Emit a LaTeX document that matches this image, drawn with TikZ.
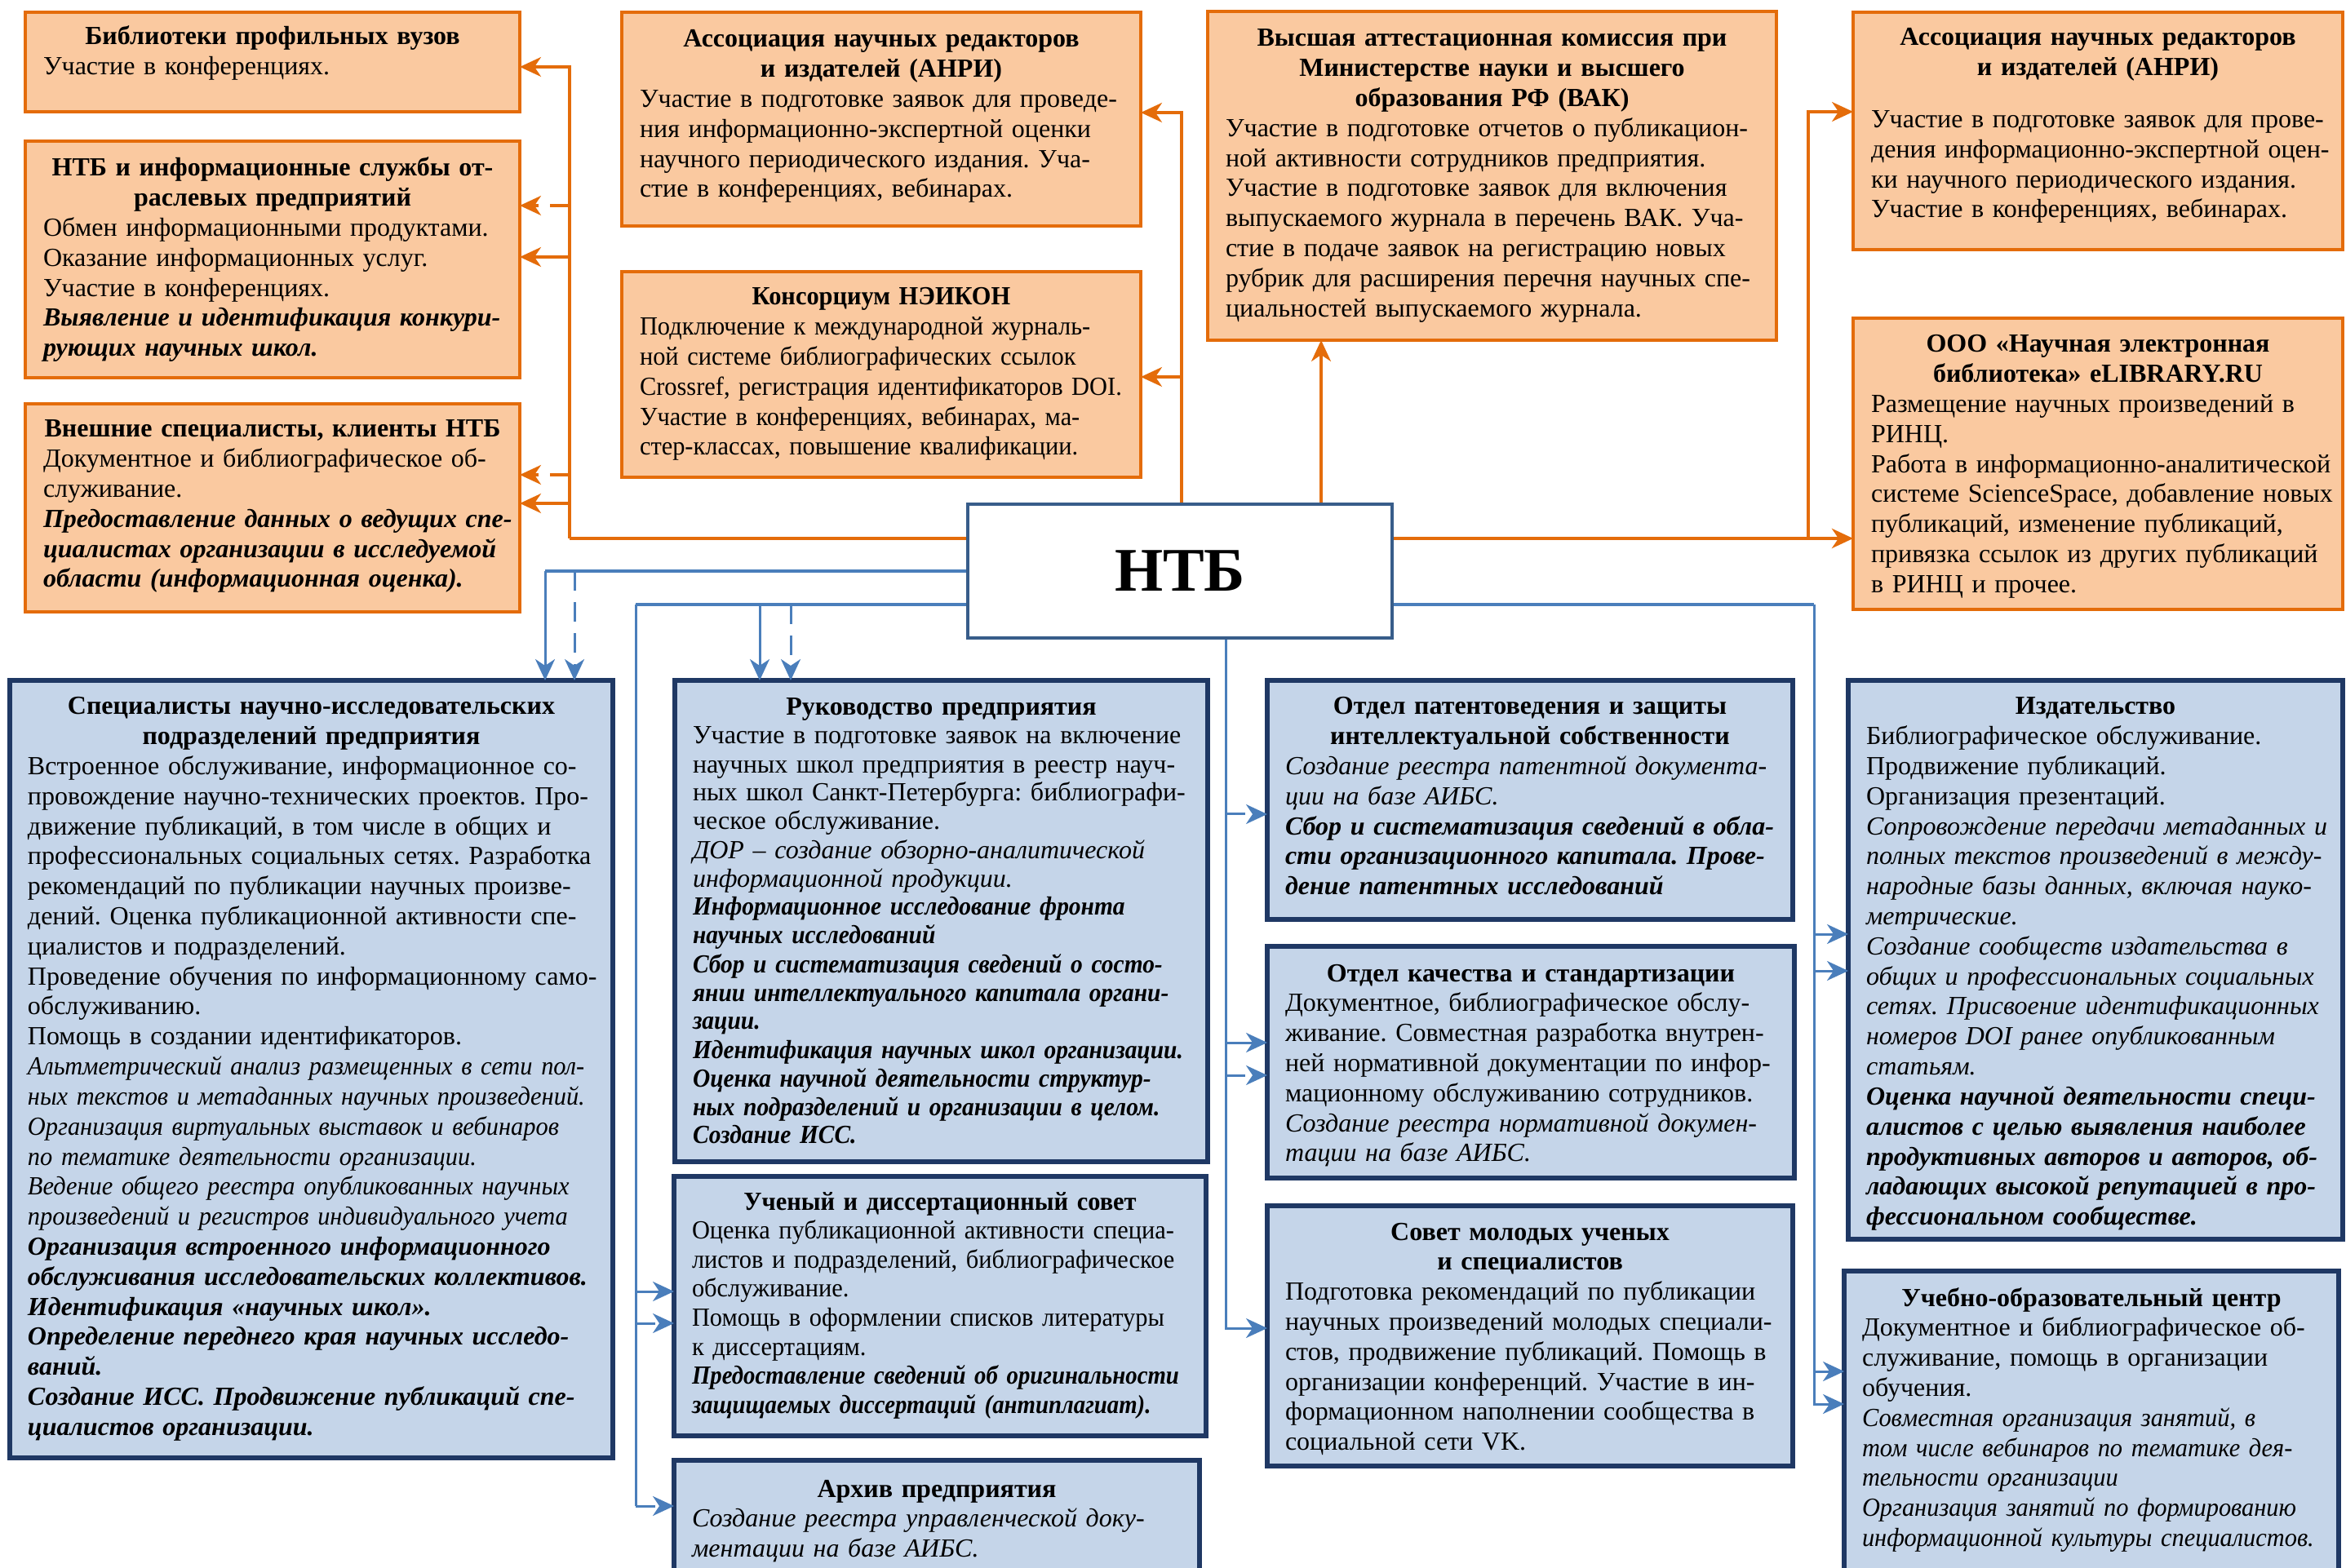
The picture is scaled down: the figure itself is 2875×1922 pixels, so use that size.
\documentclass[tikz,border=0pt]{standalone}
\usepackage{fontspec}
\setmainfont{Liberation Serif}
\newfontfamily\fsA[FakeStretch=0.95]{Liberation Serif}
\newfontfamily\fsB[FakeStretch=0.9]{Liberation Serif}
\newfontfamily\fsC[FakeStretch=0.92]{Liberation Serif}
\usetikzlibrary{arrows.meta}
\definecolor{orD}{RGB}{228,108,10}
\definecolor{orF}{RGB}{250,201,160}
\definecolor{blD}{RGB}{31,56,100}
\definecolor{blF}{RGB}{197,213,233}
\definecolor{blL}{RGB}{74,126,187}
\definecolor{ntbB}{RGB}{56,93,138}
\frenchspacing
\newlength\twid
\newcommand\mkbox[6]{\node[#1,anchor=north west,minimum width={(#5-#3)*0.25pt},minimum height={(#6-#4)*0.25pt},inner sep=0pt,outer sep=0pt] (#2) at (#3,#4) {};}
\newcommand\boxtext[6]{%
 \pgfmathsetlength\twid{(#3-#2-44)*0.25pt}%
 \node[txt, text width={\twid+80pt}, font=\fontsize{8pt}{#5}\selectfont] (#1) at (#2+22,#4-30) {\frenchspacing\rule{0pt}{7.5pt}#6};}
\newcommand\ttl[1]{\makebox[\twid][c]{\bfseries #1}}
\tikzset{
 obox/.style={draw=orD, fill=orF, line width=1.2pt},
 bbox/.style={draw=blD, fill=blF, line width=1.3pt},
 txt/.style={anchor=north west, inner sep=0pt, outer sep=0pt, align=left},
 ahead/.style={-{Stealth[length=6.5pt,width=6pt,inset=2pt]}},
 oconn/.style={draw=orD, line width=0.8pt},
 bconn/.style={draw=blL, line width=0.75pt},
 dsh/.style={dash pattern=on 6pt off 3.5pt},
}
\begin{document}
\begin{tikzpicture}[x=0.25pt,y=-0.25pt]
\useasboundingbox (0,0) rectangle (2875,1922);
% orange boxes
\mkbox{obox}{lib1}{31}{15}{637}{137}
\mkbox{obox}{lib2}{31}{173}{637}{463}
\mkbox{obox}{lib3}{31}{495}{637}{750}
\mkbox{obox}{anri1}{762}{15}{1398}{277}
\mkbox{obox}{neicon}{762}{333}{1398}{585}
\mkbox{obox}{vak}{1480}{14}{2177}{417}
\mkbox{obox}{anri2}{2271}{15}{2871}{306}
\mkbox{obox}{elib}{2271}{390}{2871}{747}
% blue boxes
\mkbox{bbox}{spec}{12}{834}{751}{1787}
\mkbox{bbox}{ruk}{827}{834}{1480}{1424}
\mkbox{bbox}{uch}{826}{1442}{1478}{1760}
\mkbox{bbox}{arch}{826}{1790}{1470}{1960}
\mkbox{bbox}{pat}{1553}{834}{2197}{1127}
\mkbox{bbox}{kach}{1553}{1160}{2199}{1444}
\mkbox{bbox}{sovet}{1553}{1478}{2197}{1797}
\mkbox{bbox}{izd}{2265}{834}{2871}{1519}
\mkbox{bbox}{ucheb}{2260}{1558}{2866}{1960}
% NTB
\node[draw=ntbB, line width=0.9pt, fill=white, minimum width=130pt, minimum height=41pt, inner sep=0pt, font=\fontsize{19pt}{22pt}\selectfont\bfseries] (ntb) at (1446,700) {НТБ};

% texts
\boxtext{lib1t}{31}{637}{55}{9.2pt}{\ttl{Библиотеки профильных вузов}\\Участие в конференциях.}
\boxtext{lib2t}{31}{637}{216}{9.2pt}{\ttl{НТБ и информационные службы от-}\\\ttl{раслевых предприятий}\\
Обмен информационными продуктами.\\
Оказание информационных услуг.\\
Участие в конференциях.\\
{\bfseries\itshape Выявление и идентификация конкури-\\
рующих научных школ.}}
\boxtext{lib3t}{31}{637}{536}{9.2pt}{\ttl{Внешние специалисты, клиенты НТБ}\\
Документное и библиографическое об-\\
служивание.\\
{\bfseries\itshape Предоставление данных о ведущих спе-\\
циалистах организации в исследуемой\\
области (информационная оценка).}}
\boxtext{anri1t}{762}{1398}{58}{9.2pt}{\ttl{Ассоциация научных редакторов}\\\ttl{и издателей (АНРИ)}\\
Участие в подготовке заявок для проведе-\\
ния информационно-экспертной оценки\\
научного периодического издания. Уча-\\
стие в конференциях, вебинарах.}
\boxtext{neicont}{762}{1398}{374}{9.2pt}{\fsA\ttl{Консорциум НЭИКОН}\\
Подключение к международной журналь-\\
ной системе библиографических ссылок\\
Crossref, регистрация идентификаторов DOI.\\
Участие в конференциях, вебинарах, ма-\\
стер-классах, повышение квалификации.}
\boxtext{vakt}{1480}{2177}{57}{9.2pt}{\ttl{Высшая аттестационная комиссия при}\\\ttl{Министерстве науки и высшего}\\\ttl{образования РФ (ВАК)}\\
Участие в подготовке отчетов о публикацион-\\
ной активности сотрудников предприятия.\\
Участие в подготовке заявок для включения\\
выпускаемого журнала в перечень ВАК. Уча-\\
стие в подаче заявок на регистрацию новых\\
рубрик для расширения перечня научных спе-\\
циальностей выпускаемого журнала.}
\boxtext{anri2t}{2271}{2871}{56}{9.2pt}{\ttl{Ассоциация научных редакторов}\\\ttl{и издателей (АНРИ)}\\[6.75pt]
Участие в подготовке заявок для прове-\\
дения информационно-экспертной оцен-\\
ки научного периодического издания.\\
Участие в конференциях, вебинарах.}
\boxtext{elibt}{2271}{2871}{432}{9.2pt}{\ttl{ООО «Научная электронная}\\\ttl{библиотека» eLIBRARY.RU}\\
Размещение научных произведений в\\
РИНЦ.\\
Работа в информационно-аналитической\\
системе ScienceSpace, добавление новых\\
публикаций, изменение публикаций,\\
привязка ссылок из других публикаций\\
в РИНЦ и прочее.}
\boxtext{spect}{12}{751}{876}{9.2pt}{\ttl{Специалисты научно-исследовательских}\\\ttl{подразделений предприятия}\\
Встроенное обслуживание, информационное со-\\
провождение научно-технических проектов. Про-\\
движение публикаций, в том числе в общих и\\
профессиональных социальных сетях. Разработка\\
рекомендаций по публикации научных произве-\\
дений. Оценка публикационной активности спе-\\
циалистов и подразделений.\\
Проведение обучения по информационному само-\\
обслуживанию.\\
Помощь в создании идентификаторов.\\
{\fsA\itshape Альтметрический анализ размещенных в сети пол-\\
ных текстов и метаданных научных произведений.\\
Организация виртуальных выставок и вебинаров\\
по тематике деятельности организации.\\
Ведение общего реестра опубликованных научных\\
произведений и регистров индивидуального учета}\\
{\bfseries\itshape Организация встроенного информационного\\
обслуживания исследовательских коллективов.\\
Идентификация «научных школ».\\
Определение переднего края научных исследо-\\
ваний.\\
Создание ИСС. Продвижение публикаций спе-\\
циалистов организации.}}
\boxtext{rukt}{827}{1480}{877}{8.75pt}{\ttl{Руководство предприятия}\\
Участие в подготовке заявок на включение\\
научных школ предприятия в реестр науч-\\
ных школ Санкт-Петербурга: библиографи-\\
ческое обслуживание.\\
{\itshape ДОР – создание обзорно-аналитической\\
информационной продукции.}\\
{\fsC\bfseries\itshape Информационное исследование фронта\\
научных исследований\\
Сбор и систематизация сведений о состо-\\
янии интеллектуального капитала органи-\\
зации.\\
Идентификация научных школ организации.\\
Оценка научной деятельности структур-\\
ных подразделений и организации в целом.\\
Создание ИСС.}}
\boxtext{ucht}{826}{1478}{1483}{8.9pt}{\fsA\ttl{Ученый и диссертационный совет}\\
Оценка публикационной активности специа-\\
листов и подразделений, библиографическое\\
обслуживание.\\
Помощь в оформлении списков литературы\\
к диссертациям.\\
{\fsB\bfseries\itshape Предоставление сведений об оригинальности\\
защищаемых диссертаций (антиплагиат).}}
\boxtext{archt}{826}{1470}{1835}{9.2pt}{\ttl{Архив предприятия}\\
{\itshape Создание реестра управленческой доку-\\
ментации на базе АИБС.}}
\boxtext{patt}{1553}{2197}{876}{9.2pt}{\ttl{Отдел патентоведения и защиты}\\\ttl{интеллектуальной собственности}\\
{\itshape Создание реестра патентной документа-\\
ции на базе АИБС.}\\
{\bfseries\itshape Сбор и систематизация сведений в обла-\\
сти организационного капитала. Прове-\\
дение патентных исследований}}
\boxtext{kacht}{1553}{2199}{1203}{9.2pt}{\ttl{Отдел качества и стандартизации}\\
Документное, библиографическое обслу-\\
живание. Совместная разработка внутрен-\\
ней нормативной документации по инфор-\\
мационному обслуживанию сотрудников.\\
{\itshape Создание реестра нормативной докумен-\\
тации на базе АИБС.}}
\boxtext{sovett}{1553}{2197}{1520}{9.2pt}{\ttl{Совет молодых ученых}\\\ttl{и специалистов}\\
Подготовка рекомендаций по публикации\\
научных произведений молодых специали-\\
стов, продвижение публикаций. Помощь в\\
организации конференций. Участие в ин-\\
формационном наполнении сообщества в\\
социальной сети VK.}
\boxtext{izdt}{2265}{2871}{876}{9.2pt}{\ttl{Издательство}\\
Библиографическое обслуживание.\\
Продвижение публикаций.\\
Организация презентаций.\\
{\itshape Сопровождение передачи метаданных и\\
полных текстов произведений в между-\\
народные базы данных, включая науко-\\
метрические.\\
Создание сообществ издательства в\\
общих и профессиональных социальных\\
сетях. Присвоение идентификационных\\
номеров DOI ранее опубликованным\\
статьям.}\\
{\bfseries\itshape Оценка научной деятельности специ-\\
алистов с целью выявления наиболее\\
продуктивных авторов и авторов, об-\\
ладающих высокой репутацией в про-\\
фессиональном сообществе.}}
\boxtext{uchebt}{2260}{2866}{1601}{9.2pt}{\ttl{Учебно-образовательный центр}\\
Документное и библиографическое об-\\
служивание, помощь в организации\\
обучения.\\
{\fsA\itshape Совместная организация занятий, в\\
том числе вебинаров по тематике дея-\\
тельности организации\\
Организация занятий по формированию\\
информационной культуры специалистов.}}

% bus coordinates
\coordinate (oL) at (698,660);
\coordinate (oT) at (1448,138);
\coordinate (oR) at (2216,660);
\coordinate (bL) at (779,741);
\coordinate (bC) at (1502,1628);
\coordinate (bR) at (2223,741);

% orange connectors left
\draw[oconn, line width=1.1pt] (ntb.west |- oL) -- (oL);
\draw[oconn, ahead] (oL) -- (oL |- 0,82) -- (lib1.east |- 0,82);
\draw[oconn, ahead, dsh] (oL |- 0,252) -- (lib2.east |- 0,252);
\draw[oconn, ahead] (oL |- 0,315) -- (lib2.east |- 0,315);
\draw[oconn, ahead, dsh] (oL |- 0,582) -- (lib3.east |- 0,582);
\draw[oconn, ahead] (oL |- 0,617) -- (lib3.east |- 0,617);
% orange top
\draw[oconn, ahead] (ntb.north -| oT) -- (oT) -- (anri1.east |- oT);
\draw[oconn, ahead] (oT |- 0,462) -- (neicon.east |- 0,462);
\draw[oconn, ahead] (ntb.north -| 1619,0) -- (vak.south -| 1619,0);
% orange right
\draw[oconn, line width=1.1pt, ahead] (ntb.east |- oR) -- (elib.west |- oR);
\draw[oconn, ahead] (oR) -- (oR |- 0,137) -- (anri2.west |- 0,137);

% blue left
\draw[bconn, line width=0.9pt] (ntb.west |- 0,700) -- (668,700);
\draw[bconn, ahead] (668,700) -- (spec.north -| 668,0);
\draw[bconn, ahead, dsh] (704,700) -- (spec.north -| 704,0);
\draw[bconn, line width=0.9pt] (ntb.west |- bL) -- (bL);
\draw[bconn] (bL) -- (bL |- 0,1846);
\draw[bconn, ahead] (931,741) -- (ruk.north -| 931,0);
\draw[bconn, ahead, dsh] (969,741) -- (ruk.north -| 969,0);
\draw[bconn, ahead] (bL |- 0,1583) -- (uch.west |- 0,1583);
\draw[bconn, ahead, dsh] (bL |- 0,1622) -- (uch.west |- 0,1622);
\draw[bconn, ahead, dsh] (bL |- 0,1846) -- (arch.west |- 0,1846);
% blue centre
\draw[bconn, ahead] (ntb.south -| bC) -- (bC) -- (sovet.west |- bC);
\draw[bconn, ahead, dsh] (bC |- 0,998) -- (pat.west |- 0,998);
\draw[bconn, ahead] (bC |- 0,1278) -- (kach.west |- 0,1278);
\draw[bconn, ahead, dsh] (bC |- 0,1318) -- (kach.west |- 0,1318);
% blue right
\draw[bconn, line width=0.9pt] (ntb.east |- bR) -- (bR);
\draw[bconn, ahead] (bR) -- (bR |- 0,1721) -- (ucheb.west |- 0,1721);
\draw[bconn, ahead] (bR |- 0,1145) -- (izd.west |- 0,1145);
\draw[bconn, ahead, dsh] (bR |- 0,1190) -- (izd.west |- 0,1190);
\draw[bconn, ahead, dsh] (bR |- 0,1681) -- (ucheb.west |- 0,1681);
\end{tikzpicture}
\end{document}
